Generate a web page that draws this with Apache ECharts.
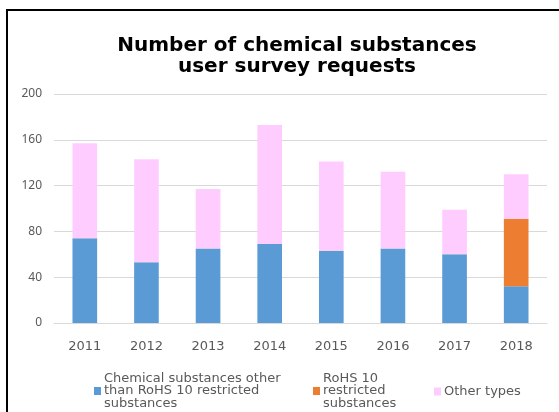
<!DOCTYPE html>
<html><head><meta charset="utf-8">
<script src="https://cdn.jsdelivr.net/npm/echarts@6/dist/echarts.min.js"></script>
<style>html,body{margin:0;padding:0;background:#fff}#c{width:559px;height:412px}</style>
</head><body><div id="c"></div>
<script>
const categories = ['2011','2012','2013','2014','2015','2016','2017','2018'];
const seriesNames = ['Chemical substances other\nthan RoHS 10 restricted\nsubstances','RoHS 10\nrestricted\nsubstances','Other types'];
const otherChem = [74, 53, 65, 69, 63, 65, 60, 32];
const rohs = [0, 0, 0, 0, 0, 0, 0, 59];
const otherTypes = [83, 90, 52, 104, 78, 67, 39, 39];
const yTicks = [0, 40, 80, 120, 160, 200];

const chart = echarts.init(document.getElementById('c'), null, {renderer:'canvas'});
const font = 'DejaVu Sans';
const colors = ['#5b9bd5', '#ed7d31', '#ffccff'];
function legend(i, left, top){
  return {
    data:[seriesNames[i]], left:left, top:top, padding:0, orient:'horizontal',
    icon:'rect', itemWidth:7, itemHeight:8, itemGap:3,
    textStyle:{fontFamily:font, fontSize:13, color:'#595959', lineHeight:12.5, padding:[0,0,0,-2]}
  };
}
chart.setOption({
  animation:false,
  title:{
    text:'Number of chemical substances\nuser survey requests',
    left:297, top:35, padding:0, textAlign:'center',
    textStyle:{fontFamily:font, fontWeight:'bold', fontSize:20, color:'#000', lineHeight:21}
  },
  graphic:[{type:'rect', shape:{x:7, y:10, width:600, height:500}, style:{fill:'none', stroke:'#000', lineWidth:2}, silent:true}],
  legend:[legend(0, 94, 372), legend(1, 313, 372), legend(2, 434, 385)],
  grid:{left:54, right:12, top:94, bottom:89, containLabel:false},
  xAxis:{type:'category', data:categories,
    axisLine:{show:true, lineStyle:{color:'#d9d9d9'}}, axisTick:{show:false},
    axisLabel:{fontFamily:font, fontSize:13, color:'#595959', margin:17}},
  yAxis:{type:'value', min:yTicks[0], max:yTicks[yTicks.length-1], interval:40,
    axisLine:{show:false}, axisTick:{show:false},
    splitLine:{lineStyle:{color:'#d9d9d9', width:1}},
    axisLabel:{fontFamily:'Noto Sans', fontSize:12, color:'#595959', margin:12}},
  series:[
    {name:seriesNames[0], type:'bar', stack:'s', data:otherChem, barWidth:'40%', itemStyle:{color:colors[0]}},
    {name:seriesNames[1], type:'bar', stack:'s', data:rohs, itemStyle:{color:colors[1]}},
    {name:seriesNames[2], type:'bar', stack:'s', data:otherTypes, itemStyle:{color:colors[2]}}
  ]
});
</script></body></html>
